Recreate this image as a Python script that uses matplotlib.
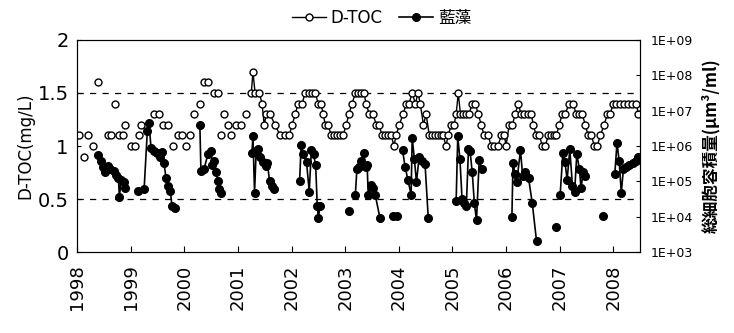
import numpy as np
import matplotlib
matplotlib.use("Agg")
import matplotlib.pyplot as plt

plt.rcParams['font.family'] = ['DejaVu Sans', 'Noto Sans CJK JP']

# D-TOC (mg/L), 1998-2001: isolated samples
dtoc_early_t = [1998.04, 1998.13, 1998.21, 1998.30, 1998.39, 1998.58, 1998.63, 1998.71, 1998.78, 1998.86,
                1998.90, 1999.01, 1999.08, 1999.16, 1999.19, 1999.44, 1999.53, 1999.60, 1999.70, 1999.79,
                1999.88, 1999.96, 2000.03, 2000.11, 2000.18, 2000.29, 2000.37, 2000.44, 2000.56, 2000.63,
                2000.69, 2000.74, 2000.82, 2000.87, 2000.97, 2001.06, 2001.15]
dtoc_early_v = [1.1, 0.9, 1.1, 1.0, 1.6, 1.1, 1.1, 1.4, 1.1, 1.1,
                1.2, 1.0, 1.0, 1.1, 1.2, 1.3, 1.3, 1.2, 1.2, 1.0,
                1.1, 1.1, 1.0, 1.1, 1.3, 1.4, 1.6, 1.6, 1.5, 1.5,
                1.1, 1.3, 1.2, 1.1, 1.2, 1.2, 1.3]

# D-TOC (mg/L), 2001-2008: continuous record
dtoc_t = [2001.25, 2001.28, 2001.32, 2001.40, 2001.45, 2001.49, 2001.53, 2001.60, 2001.69, 2001.79,
          2001.88, 2001.96, 2002.01, 2002.07, 2002.12, 2002.20, 2002.25, 2002.33, 2002.38, 2002.44,
          2002.50, 2002.55, 2002.59, 2002.63, 2002.68, 2002.74, 2002.79, 2002.85, 2002.91, 2002.96,
          2003.02, 2003.07, 2003.13, 2003.19, 2003.24, 2003.30, 2003.35, 2003.39, 2003.45, 2003.52,
          2003.58, 2003.63, 2003.69, 2003.75, 2003.80, 2003.86, 2003.91, 2003.95, 2004.01, 2004.08,
          2004.14, 2004.19, 2004.25, 2004.31, 2004.36, 2004.40, 2004.46, 2004.51, 2004.57, 2004.62,
          2004.68, 2004.74, 2004.79, 2004.83, 2004.88, 2004.92, 2004.98, 2005.03, 2005.07, 2005.11,
          2005.15, 2005.20, 2005.26, 2005.31, 2005.37, 2005.43, 2005.48, 2005.54, 2005.59, 2005.67,
          2005.72, 2005.78, 2005.85, 2005.91, 2005.97, 2006.00, 2006.06, 2006.12, 2006.17, 2006.23,
          2006.28, 2006.34, 2006.41, 2006.47, 2006.51, 2006.56, 2006.62, 2006.68, 2006.73, 2006.79,
          2006.84, 2006.90, 2006.94, 2006.99, 2007.05, 2007.10, 2007.18, 2007.25, 2007.31, 2007.37,
          2007.42, 2007.48, 2007.53, 2007.59, 2007.65, 2007.70, 2007.76, 2007.83, 2007.89, 2007.94,
          2008.00, 2008.06, 2008.13, 2008.21, 2008.28, 2008.35, 2008.43, 2008.47]
dtoc_v = [1.5, 1.7, 1.5, 1.5, 1.4, 1.2, 1.3, 1.3, 1.2, 1.1,
          1.1, 1.1, 1.2, 1.3, 1.4, 1.4, 1.5, 1.5, 1.5, 1.5,
          1.4, 1.4, 1.3, 1.2, 1.2, 1.1, 1.1, 1.1, 1.1, 1.1,
          1.2, 1.3, 1.4, 1.5, 1.5, 1.5, 1.5, 1.4, 1.3, 1.3,
          1.2, 1.2, 1.1, 1.1, 1.1, 1.1, 1.0, 1.1, 1.2, 1.3,
          1.4, 1.4, 1.5, 1.4, 1.5, 1.4, 1.2, 1.3, 1.1, 1.1,
          1.1, 1.1, 1.1, 1.1, 1.0, 1.1, 1.2, 1.2, 1.3, 1.5,
          1.3, 1.3, 1.3, 1.3, 1.4, 1.4, 1.3, 1.2, 1.1, 1.1,
          1.0, 1.0, 1.0, 1.1, 1.1, 1.0, 1.2, 1.2, 1.3, 1.4,
          1.3, 1.3, 1.3, 1.3, 1.2, 1.1, 1.1, 1.0, 1.0, 1.1,
          1.1, 1.1, 1.1, 1.2, 1.3, 1.3, 1.4, 1.4, 1.3, 1.3,
          1.3, 1.2, 1.1, 1.1, 1.0, 1.0, 1.1, 1.2, 1.3, 1.3,
          1.4, 1.4, 1.4, 1.4, 1.4, 1.4, 1.4, 1.3]

# cyanobacteria total cell volume (um3/ml); nan separates seasons
nan = np.nan
cyano_t = [1998.39, 1998.45, 1998.49, 1998.52, 1998.57, 1998.62, 1998.68, 1998.73, 1998.77, 1998.79, 1998.82, 1998.87, 1998.89, nan,
           1999.14, 1999.25, 1999.31, 1999.34, 1999.38, 1999.44, 1999.49, 1999.55, 1999.59, 1999.62, 1999.66, 1999.70, 1999.74, 1999.77, 1999.83, nan,
           2000.29, 2000.31, 2000.37, 2000.44, 2000.50, 2000.52, 2000.56, 2000.59, 2000.63, 2000.65, 2000.69, nan,
           2001.26, 2001.28, 2001.31, 2001.34, 2001.38, 2001.42, 2001.47, 2001.52, 2001.55, 2001.59, 2001.63, 2001.68, nan,
           2002.15, 2002.18, 2002.22, 2002.28, 2002.33, 2002.37, 2002.41, 2002.45, 2002.48, 2002.50, 2002.53, nan,
           2003.07, nan,
           2003.19, 2003.22, 2003.26, 2003.30, 2003.35, 2003.38, 2003.41, 2003.43, 2003.48, 2003.52, 2003.56, 2003.65, nan,
           2003.89, 2003.97, nan,
           2004.07, 2004.12, 2004.17, 2004.23, 2004.25, 2004.29, 2004.33, 2004.38, 2004.44, 2004.49, 2004.55, nan,
           2005.07, 2005.10, 2005.14, 2005.18, 2005.22, 2005.26, 2005.30, 2005.33, 2005.37, 2005.41, 2005.45, 2005.50, 2005.55, nan,
           2006.11, 2006.13, 2006.17, 2006.20, 2006.27, 2006.31, 2006.36, 2006.42, 2006.49, 2006.57, nan,
           2006.94, nan,
           2007.01, 2007.06, 2007.10, 2007.14, 2007.19, 2007.24, 2007.28, 2007.32, 2007.37, 2007.40, 2007.44, 2007.48, nan,
           2007.81, nan,
           2008.03, 2008.07, 2008.11, 2008.15, 2008.19, 2008.24, 2008.30, 2008.36, 2008.42, 2008.47]
cyano_v = [5.4e5, 3.8e5, 2.5e5, 1.9e5, 2.7e5, 2.3e5, 2.0e5, 1.55e5, 1.26e5, 3.6e4, 1.1e5, 9.5e4, 6.3e4, nan,
           5.5e4, 5.9e4, 2.6e6, 4.6e6, 8.7e5, 7.1e5, 6.2e5, 5.0e5, 6.6e5, 3.3e5, 1.26e5, 7.2e4, 5.5e4, 1.95e4, 1.8e4, nan,
           4.0e6, 2.0e5, 2.3e5, 5.8e5, 7.1e5, 2.9e5, 3.8e5, 1.8e5, 1.0e5, 5.9e4, 4.8e4, nan,
           6.2e5, 1.86e6, 4.8e4, 7.1e5, 8.1e5, 5.0e5, 3.5e5, 2.7e5, 3.3e5, 1.0e5, 7.2e4, 5.9e4, nan,
           1.0e5, 1.07e6, 5.8e5, 3.5e5, 5.1e4, 7.6e5, 5.8e5, 2.9e5, 1.95e4, 9.1e3, 1.95e4, nan,
           1.5e4, nan,
           4.2e4, 2.3e5, 2.5e5, 3.8e5, 6.2e5, 2.5e5, 2.9e5, 4.2e4, 7.8e4, 6.3e4, 4.2e4, 9.1e3, nan,
           1.05e4, 1.05e4, nan,
           7.6e5, 2.5e5, 1.1e5, 4.2e4, 1.74e6, 4.4e5, 9.5e4, 5.0e5, 3.8e5, 3.1e5, 9.1e3, nan,
           2.75e4, 1.86e6, 4.4e5, 3.2e4, 2.4e4, 1.95e4, 8.1e5, 7.1e5, 1.8e5, 2.4e4, 7.9e3, 4.1e5, 2.2e5, nan,
           9.8e3, 3.3e5, 1.66e5, 9.5e4, 7.6e5, 1.45e5, 1.9e5, 1.26e5, 2.4e4, 2.0e3, nan,
           5.2e3, nan,
           4.2e4, 6.2e5, 3.5e5, 1.1e5, 8.1e5, 7.2e4, 5.1e4, 5.8e5, 2.2e5, 6.3e4, 1.9e5, 1.45e5, nan,
           1.05e4, nan,
           1.66e5, 1.23e6, 3.8e5, 4.8e4, 2.2e5, 2.5e5, 2.9e5, 3.3e5, 3.8e5, 5.0e5]

years = list(range(1998, 2009))
left_ticks = [0, 0.5, 1, 1.5, 2]
left_labels = ["0", "0.5", "1", "1.5", "2"]
right_ticks = [1e3, 1e4, 1e5, 1e6, 1e7, 1e8, 1e9]
right_labels = ["1E+03", "1E+04", "1E+05", "1E+06", "1E+07", "1E+08", "1E+09"]
grid_levels = [0.5, 1.5]

fig = plt.figure(figsize=(7.34, 3.33), dpi=100)
ax = fig.add_axes([0.105, 0.243, 0.767, 0.637])

for g in grid_levels:
    ax.axhline(g, color="black", lw=0.9, ls=(0, (5, 5)), zorder=1)

ax.plot(dtoc_early_t, dtoc_early_v, ls="none", marker="o", ms=5, mfc="white", mec="black", mew=1.0, zorder=3)
h1, = ax.plot(dtoc_t, dtoc_v, color="black", lw=1.0, marker="o", ms=5, mfc="white", mec="black", mew=1.0,
              zorder=3, label="D-TOC")

ax.set_xlim(1998, 2008.5)
ax.set_ylim(0, 2)
ax.set_yticks(left_ticks)
ax.set_yticklabels(left_labels, fontsize=14)
ax.set_xticks(years)
ax.set_xticklabels([str(y) for y in years], rotation=90, fontsize=13)
ax.tick_params(axis="x", direction="in", length=4, pad=9)
ax.tick_params(axis="y", direction="in", length=3, pad=6)
ax.set_ylabel("D-TOC(mg/L)", fontsize=12, labelpad=2)

ax2 = ax.twinx()
ax2.set_yscale("log")
h2, = ax2.plot(cyano_t, cyano_v, color="black", lw=1.2, marker="o", ms=5.5, zorder=4, label="藍藻")
ax2.set_ylim(1e3, 1e9)
ax2.set_yticks(right_ticks)
ax2.set_yticklabels(right_labels, fontsize=9)
ax2.minorticks_off()
ax2.tick_params(axis="y", direction="in", length=3, pad=8)
ax2.set_ylabel("総細胞容積量(μm³/ml)", fontsize=12, fontweight="bold", labelpad=6,
               family=["Noto Sans CJK JP", "DejaVu Sans"])

fig.legend(handles=[h1, h2], loc="center", bbox_to_anchor=(0.52, 0.945), ncol=2, frameon=False,
           fontsize=12, handlelength=2.0, columnspacing=1.0, handletextpad=0.3)

fig.savefig("out.png", dpi=100)
